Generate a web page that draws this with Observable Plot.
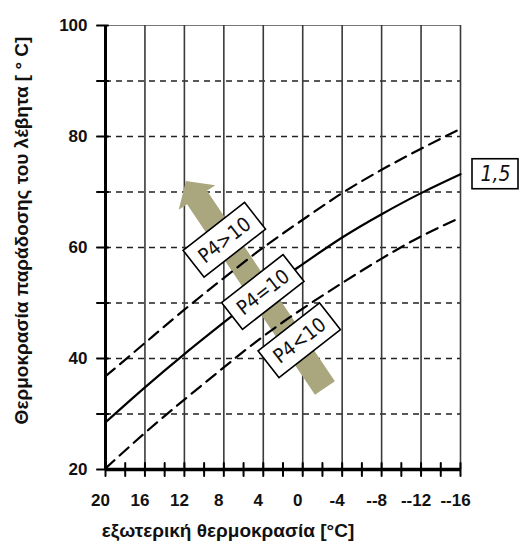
<!DOCTYPE html>
<html><head><meta charset="utf-8">
<script src="https://cdn.jsdelivr.net/npm/d3@7"></script>
<script src="https://cdn.jsdelivr.net/npm/@observablehq/plot@0.6"></script>
<style>body{margin:0;background:#fff} svg{display:block;background:#fff}</style>
</head><body><div id="chart"></div>
<script>
// ---- data ----
const outdoorTemp = [20, 16, 12, 8, 4, 0, -4, -8, -12, -16];
const curveP4eq10 = [28.5, 34.8, 40.8, 46.5, 52, 57, 61.8, 66, 69.8, 73.2];
const curveP4gt10 = [36.8, 42.8, 48.8, 54.5, 60, 65, 69.8, 74, 77.8, 81.4];
const curveP4lt10 = [20.2, 26.6, 32.6, 38.4, 44, 49, 53.6, 58, 62, 65.4];

const xTickValues = [20, 16, 12, 8, 4, 0, -4, -8, -12, -16];
const xTickLabels = ["20", "16", "12", "8", "4", "0", "-4", "--8", "--12", "--16"];
const xMinorTicks = [20, 18, 16, 14, 12, 10, 8, 6, 4, 2, 0, -2, -4, -6, -8, -10, -12, -14, -16];
const yTickValues = [20, 40, 60, 80, 100];
const yTickLabels = ["20", "40", "60", "80", "100"];
const yMinorTicks = [20, 30, 40, 50, 60, 70, 80, 90, 100];
const hGridDashed = [30, 40, 50, 60, 70, 80, 90];
const vGrid = [16, 12, 8, 4, 0, -4, -8, -12, -16];

const curveNames = ["P4>10", "P4=10", "P4<10"];
const labelX = [7.9, 4.0, 0.3];
const labelY = [61.3, 51.9, 43.2];
const arrowX = [-2.3, 11.8];   // tail, tip
const arrowY = [34.6, 71.9];
const settingLabel = ["1,5"];

const yTitle = "Θερμοκρασία παράδοσης του λέβητα [ ° C]";
const xTitle = "εξωτερική θερμοκρασία [°C]";

// ---- helpers ----
const curves = [
  {name: curveNames[0], values: curveP4gt10, dash: "12,7"},
  {name: curveNames[1], values: curveP4eq10, dash: null},
  {name: curveNames[2], values: curveP4lt10, dash: "12,7"}
];
const lineShape = {draw(ctx, l) { ctx.moveTo(0, 0); ctx.lineTo(0, -l); }};

function arrowMark(index, scales) {
  const X = scales.x, Y = scales.y;
  const cx = X(arrowX[0]), cy = Y(arrowY[0]);
  const tx = X(arrowX[1]), ty = Y(arrowY[1]);
  const len = Math.hypot(tx - cx, ty - cy);
  const ux = (tx - cx) / len, uy = (ty - cy) / len;
  const nx = -uy, ny = ux;
  const headLen = 20, sw = 24, hw = 44;
  const bx = cx + ux * (len - headLen), by = cy + uy * (len - headLen);
  const pts = [
    [cx + nx * sw / 2, cy + ny * sw / 2],
    [bx + nx * sw / 2, by + ny * sw / 2],
    [bx + nx * hw / 2, by + ny * hw / 2],
    [tx, ty],
    [bx - nx * hw / 2, by - ny * hw / 2],
    [bx - nx * sw / 2, by - ny * sw / 2],
    [cx - nx * sw / 2, cy - ny * sw / 2]
  ];
  const g = d3.create("svg:g");
  g.append("path").attr("d", "M" + pts.map(p => p.join(",")).join("L") + "Z")
    .attr("fill", "#aaa67e");
  return g.node();
}

function boxesMark(index, scales) {
  const X = scales.x, Y = scales.y;
  const g = d3.create("svg:g");
  labelX.forEach((lx, i) => {
    g.append("rect")
      .attr("transform", `translate(${X(lx)},${Y(labelY[i])}) rotate(-38)`)
      .attr("x", -39).attr("y", -17).attr("width", 78).attr("height", 34)
      .attr("fill", "white").attr("stroke", "black").attr("stroke-width", 1.6);
  });
  const last = outdoorTemp.length - 1;
  g.append("rect")
    .attr("transform", `translate(${X(outdoorTemp[last]) + 35},${Y(curveP4eq10[last])})`)
    .attr("x", -23).attr("y", -15).attr("width", 46).attr("height", 30)
    .attr("fill", "white").attr("stroke", "black").attr("stroke-width", 1.6);
  return g.node();
}

const last = outdoorTemp.length - 1;

const chart = Plot.plot({
  width: 520,
  height: 547,
  marginLeft: 105,
  marginRight: 60,
  marginTop: 25,
  marginBottom: 78,
  style: {fontFamily: "'Liberation Sans', Arial, sans-serif", background: "white"},
  x: {domain: [20, -16], axis: null},
  y: {domain: [20, 100], axis: null},
  marks: [
    // grid
    Plot.ruleY(hGridDashed, {stroke: "#222", strokeWidth: 1.3, strokeDasharray: "6,5"}),
    Plot.ruleY([100], {stroke: "#777", strokeWidth: 1.2}),
    Plot.ruleX(vGrid, {stroke: "#3a3a3a", strokeWidth: 1.6}),
    // arrow
    arrowMark,
    // curves
    ...curves.map(c => Plot.line(outdoorTemp, {
      x: d => d, y: (d, i) => c.values[i], curve: "natural",
      stroke: "black", strokeWidth: 2.2, strokeDasharray: c.dash
    })),
    // axes lines
    Plot.ruleX([20], {y1: 20, y2: 100, stroke: "black", strokeWidth: 3}),
    Plot.ruleY([20], {stroke: "black", strokeWidth: 3.5}),
    // ticks
    Plot.vector(xMinorTicks, {x: d => d, y: 20, length: 13, anchor: "middle", shape: lineShape, stroke: "black", strokeWidth: 2}),
    Plot.vector(yMinorTicks, {x: 20, y: d => d, length: 11, rotate: 90, anchor: "middle", dx: -3, shape: lineShape, stroke: "black", strokeWidth: 2}),
    // tick labels
    Plot.axisX({ticks: xTickValues, tickFormat: d => xTickLabels[xTickValues.indexOf(d)], tickSize: 0, tickPadding: 24, dx: -5,
      fontSize: 17, fontWeight: "bold", label: null, fill: "#111"}),
    Plot.axisY({ticks: yTickValues, tickFormat: d => yTickLabels[yTickValues.indexOf(d)], tickSize: 0, tickPadding: 18,
      fontSize: 17, fontWeight: "bold", label: null, fill: "#111"}),
    // axis titles
    Plot.text([yTitle], {frameAnchor: "left", textAnchor: "middle", lineAnchor: "middle", rotate: -90, dx: -84, dy: -17,
      fontSize: 19, fontWeight: "bold", fill: "#111"}),
    Plot.text([xTitle], {frameAnchor: "bottom", textAnchor: "middle", lineAnchor: "middle", dy: 61, dx: -55,
      fontSize: 19, fontWeight: "bold", fill: "#111"}),
    // label boxes + texts
    boxesMark,
    Plot.text(curveNames, {x: (d, i) => labelX[i], y: (d, i) => labelY[i], text: d => d, rotate: -38,
      fontSize: 20, fontFamily: "'DejaVu Sans Condensed', 'DejaVu Sans', sans-serif", fill: "#111"}),
    Plot.text(settingLabel, {x: outdoorTemp[last], y: curveP4eq10[last], text: d => d, dx: 35,
      fontSize: 21, fontStyle: "italic", fontFamily: "'DejaVu Sans Condensed', 'DejaVu Sans', sans-serif", fill: "#111"})
  ]
});
document.getElementById("chart").appendChild(chart);
</script>
</body></html>
